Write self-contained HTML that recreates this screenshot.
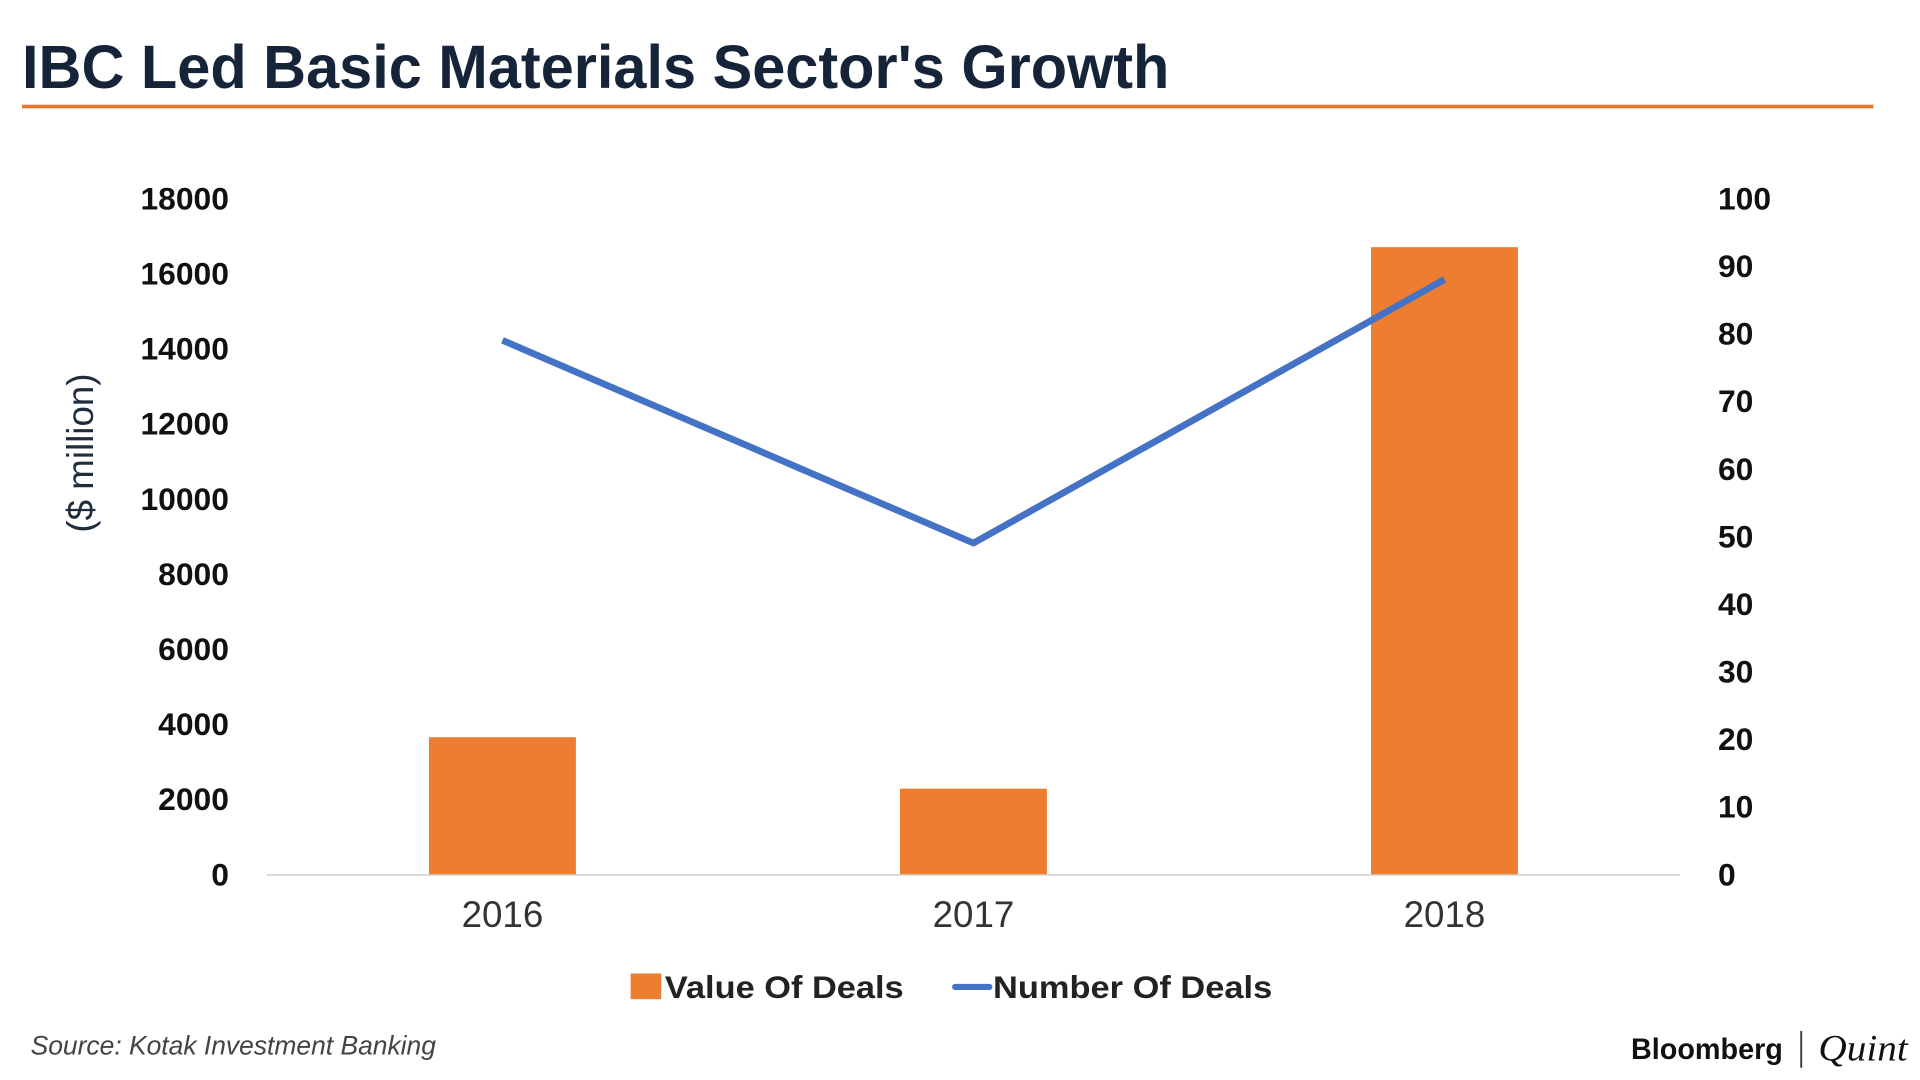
<!DOCTYPE html>
<html><head><meta charset="utf-8"><style>html,body{margin:0;padding:0;background:#fff;}svg{display:block}</style></head>
<body>
<svg id="chart" width="1920" height="1080" viewBox="0 0 1568 882" preserveAspectRatio="none" xmlns="http://www.w3.org/2000/svg" font-family="'Liberation Sans', sans-serif">
<text x="18" y="72" font-size="50" font-weight="bold" fill="#16243a" textLength="937" lengthAdjust="spacingAndGlyphs">IBC Led Basic Materials Sector's Growth</text>
<rect x="18" y="85.5" width="1512" height="3" fill="#e8792f"/>
<line x1="218" y1="714.5" x2="1372" y2="714.5" stroke="#d9d9d9" stroke-width="1.5"/>
<text transform="translate(76,370) rotate(-90)" text-anchor="middle" font-size="30" fill="#1f2d3d">($ million)</text>
<g id="left-ticks"></g><g id="right-ticks"></g><g id="bars"></g><g id="xlabels"></g><g id="line"></g>
<rect x="515" y="795" width="25" height="21" fill="#ed7d31"/>
<text x="543" y="815" font-size="26" font-weight="bold" fill="#222" textLength="195" lengthAdjust="spacingAndGlyphs">Value Of Deals</text>
<line x1="780" y1="806" x2="808" y2="806" stroke="#4472c4" stroke-width="5" stroke-linecap="round"/>
<text x="811" y="815" font-size="26" font-weight="bold" fill="#222" textLength="228" lengthAdjust="spacingAndGlyphs">Number Of Deals</text>
<text x="25" y="861" font-size="22" font-style="italic" fill="#444" textLength="331" lengthAdjust="spacingAndGlyphs">Source: Kotak Investment Banking</text>
<text x="1332" y="865" font-size="24" font-weight="bold" fill="#111" textLength="124" lengthAdjust="spacingAndGlyphs">Bloomberg</text>
<line x1="1471" y1="842" x2="1471" y2="872" stroke="#333" stroke-width="1.5"/>
<text x="1485" y="866" font-size="30" font-style="italic" font-family="'Liberation Serif', serif" fill="#111" textLength="73" lengthAdjust="spacingAndGlyphs">Quint</text>
</svg>
<script>
const categories=["2016","2017","2018"];
const valueOfDeals=[3650,2280,16700];
const numberOfDeals=[79,49,88];
const leftTicks=[0,2000,4000,6000,8000,10000,12000,14000,16000,18000];
const rightTicks=[0,10,20,30,40,50,60,70,80,90,100];
const NS="http://www.w3.org/2000/svg";
const x0=218,x1=1372,yb=714,yt=162;
const yL=v=>yb-(v/18000)*(yb-yt);
const yR=v=>yb-(v/100)*(yb-yt);
const band=(x1-x0)/categories.length;
const xc=i=>x0+band*(i+0.5);
function mk(t,a,p){const e=document.createElementNS(NS,t);for(const k in a)e.setAttribute(k,a[k]);p.appendChild(e);return e;}
const gl=document.getElementById('left-ticks');
leftTicks.forEach(v=>{const e=mk('text',{x:187,y:yL(v)+9,'text-anchor':'end','font-size':26,'font-weight':'bold',fill:'#111'},gl);

e.textContent=v;});
const gr=document.getElementById('right-ticks');
rightTicks.forEach(v=>{const e=mk('text',{x:1403,y:yR(v)+9,'font-size':26,'font-weight':'bold',fill:'#111'},gr);

e.textContent=v;});
const gb=document.getElementById('bars'),gx=document.getElementById('xlabels');
categories.forEach((c,i)=>{const w=120;const r=mk('rect',{x:xc(i)-w/2,y:yL(valueOfDeals[i]),width:w,height:yb-yL(valueOfDeals[i]),fill:'#ed7d31'},gb);


const t=mk('text',{x:xc(i),y:757,'text-anchor':'middle','font-size':30,fill:'#333'},gx);

t.textContent=c;});
const pts=numberOfDeals.map((v,i)=>xc(i)+','+yR(v)).join(' ');
const pl=mk('polyline',{points:pts,fill:'none',stroke:'#4472c4','stroke-width':5.5,'stroke-linejoin':'round'},document.getElementById('line'));


</script>
</body></html>
